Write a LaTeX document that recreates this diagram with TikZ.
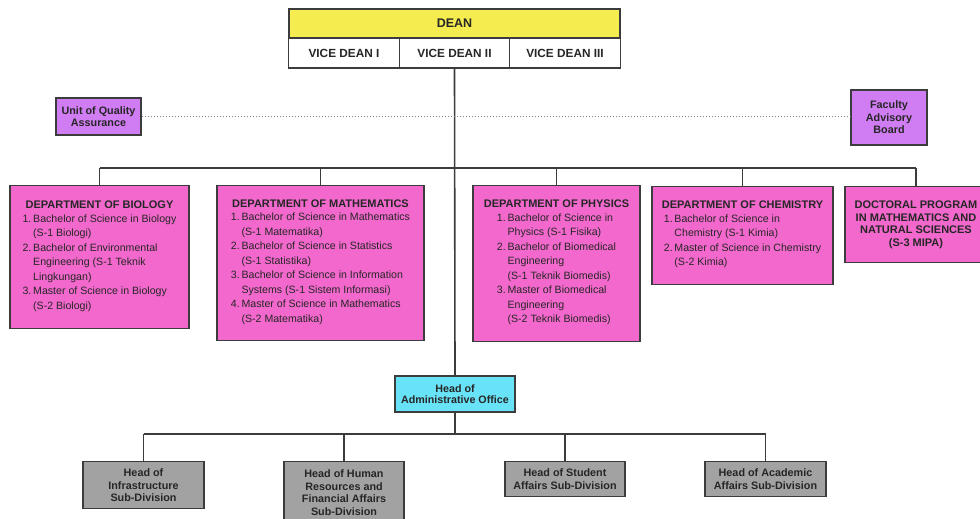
\documentclass[tikz,border=0pt]{standalone}
\usepackage{fontspec}
\setmainfont{Liberation Sans}
\definecolor{deanyellow}{RGB}{245,236,80}
\definecolor{deptpink}{RGB}{242,104,204}
\definecolor{boardviolet}{RGB}{208,124,242}
\definecolor{officecyan}{RGB}{104,226,246}
\definecolor{subgray}{RGB}{162,162,162}
\definecolor{linegray}{RGB}{60,60,60}

\begin{document}
\begin{tikzpicture}[x=1pt,y=-1pt,
  box/.style={draw=linegray, line width=1.4pt, inner sep=2pt, align=center, text=black!85,
    font=\bfseries\fontsize{10.8}{12.5}\selectfont},
  deanbox/.style={box, fill=deanyellow, minimum width=331, minimum height=29,
    font=\bfseries\fontsize{12.5}{14}\selectfont},
  vicebox/.style={box, fill=white, minimum width=110.5, minimum height=30,
    font=\bfseries\fontsize{11.8}{13}\selectfont},
  boardbox/.style={box, fill=boardviolet},
  deptbox/.style={box, fill=deptpink, anchor=north, font=\fontsize{10.6}{14.5}\selectfont},
  officebox/.style={box, fill=officecyan, font=\bfseries\fontsize{10.7}{11.5}\selectfont},
  subbox/.style={box, fill=subgray, anchor=north},
  link/.style={draw=linegray, line width=1.6pt}]

\useasboundingbox (0,0) rectangle (980,519);
\clip (0,0) rectangle (980,519);

% top management
\node[deanbox] (dean) at (454.5,23.5) {DEAN};
\node[vicebox] (vd1) at (344,53) {VICE DEAN I};
\node[vicebox] (vd2) at (454.5,53) {VICE DEAN II};
\node[vicebox] (vd3) at (565,53) {VICE DEAN III};

\node[boardbox, minimum width=85, minimum height=37] (qa) at (98.5,116.5) {Unit of Quality\\Assurance};
\node[boardbox, minimum width=76, minimum height=55] (fab) at (889,117.5) {Faculty\\Advisory\\Board};

% departments
\node[deptbox, minimum width=179, minimum height=143] (bio) at (99.5,185)
{{\bfseries\fontsize{11}{14.5}\selectfont DEPARTMENT OF BIOLOGY}\\[2.5pt]
\begin{tabular}{@{}r@{\,}l@{}}
1. & Bachelor of Science in Biology\\
   & (S-1 Biologi)\\
2. & Bachelor of Environmental\\
   & Engineering (S-1 Teknik\\
   & Lingkungan)\\
3. & Master of Science in Biology\\
   & (S-2 Biologi)
\end{tabular}};

\node[deptbox, minimum width=207, minimum height=155] (math) at (320.5,185)
{{\bfseries\fontsize{11}{14.5}\selectfont DEPARTMENT OF MATHEMATICS}\\[2.5pt]
\begin{tabular}{@{}r@{\,}l@{}}
1. & Bachelor of Science in Mathematics\\
   & (S-1 Matematika)\\
2. & Bachelor of Science in Statistics\\
   & (S-1 Statistika)\\
3. & Bachelor of Science in Information\\
   & Systems (S-1 Sistem Informasi)\\
4. & Master of Science in Mathematics\\
   & (S-2 Matematika)
\end{tabular}};

\node[deptbox, minimum width=167, minimum height=156] (phys) at (556.5,185)
{{\bfseries\fontsize{11}{14.5}\selectfont DEPARTMENT OF PHYSICS}\\[2.5pt]
\begin{tabular}{@{}r@{\,}l@{}}
1. & Bachelor of Science in\\
   & Physics (S-1 Fisika)\\
2. & Bachelor of Biomedical\\
   & Engineering\\
   & (S-1 Teknik Biomedis)\\
3. & Master of Biomedical\\
   & Engineering\\
   & (S-2 Teknik Biomedis)
\end{tabular}};

\node[deptbox, minimum width=181, minimum height=98] (chem) at (742.5,186)
{{\bfseries\fontsize{11}{14.5}\selectfont DEPARTMENT OF CHEMISTRY}\\[2.5pt]
\begin{tabular}{@{}r@{\,}l@{}}
1. & Bachelor of Science in\\
   & Chemistry (S-1 Kimia)\\
2. & Master of Science in Chemistry\\
   & (S-2 Kimia)
\end{tabular}};

\node[deptbox, minimum width=142, minimum height=76, font=\bfseries\fontsize{11}{12.8}\selectfont] (doc) at (916,186)
{DOCTORAL PROGRAM\\IN MATHEMATICS AND\\NATURAL SCIENCES\\(S-3 MIPA)};

% administration
\node[officebox, minimum width=120, minimum height=36] (admin) at (455,394) {Head of\\Administrative Office};

\node[subbox, minimum width=121, minimum height=47] (infra) at (143.5,461) {Head of\\Infrastructure\\Sub-Division};
\node[subbox, minimum width=120, minimum height=62] (hr) at (344,461) {Head of Human\\Resources and\\Financial Affairs\\Sub-Division};
\node[subbox, minimum width=120, minimum height=35] (student) at (565,461) {Head of Student\\Affairs Sub-Division};
\node[subbox, minimum width=121, minimum height=35] (acad) at (765.5,461) {Head of Academic\\Affairs Sub-Division};

% connectors
\coordinate (deptbus) at (455,168);
\coordinate (subbus) at (455,434);
\draw[link] (vd2.south) -- (admin.north);
\draw[link] (bio.north |- deptbus) -- (doc.north |- deptbus);
\foreach \d in {bio,math,phys,chem,doc}
  \draw[link] (\d.north |- deptbus) -- (\d.north);
\draw[link] (admin.south) -- (subbus);
\draw[link] (infra.north |- subbus) -- (acad.north |- subbus);
\foreach \s in {infra,hr,student,acad}
  \draw[link] (\s.north |- subbus) -- (\s.north);
\draw[gray, line width=1pt, dotted] (qa.east) -- (fab.west |- qa.east);

\end{tikzpicture}
\end{document}
